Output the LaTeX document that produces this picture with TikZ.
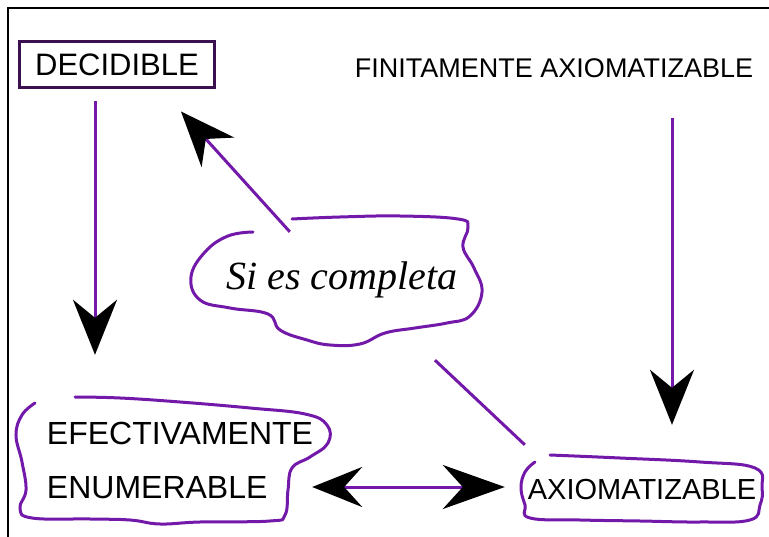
\documentclass[tikz,border=0pt]{standalone}
\usepackage{fontspec}
\setmainfont{Liberation Sans}
\newfontfamily\mano{Liberation Serif}
\usetikzlibrary{arrows.meta,calc,positioning}
\definecolor{pen}{RGB}{115,25,170}
\definecolor{marco}{RGB}{60,15,80}

\begin{document}
\begin{tikzpicture}[x=1pt, y=-1pt,
  box/.style={rectangle, draw=marco, line width=3pt, minimum width=195pt, minimum height=46pt},
  plain/.style={rectangle, inner sep=0pt},
  nube/.style={draw=pen, line width=3pt, line cap=round},
  flecha/.style={draw=pen, line width=3pt, -{Stealth[length=55pt, width=44pt, inset=18pt, color=black]}},
  dobleflecha/.style={draw=pen, line width=3pt, {Stealth[length=50pt, width=40pt, inset=18pt, color=black]}-{Stealth[length=62pt, width=44pt, inset=20pt, color=black]}},
  font=\fontsize{31}{36}\selectfont]
  \useasboundingbox (0,0) rectangle (769,537);
  \draw[line width=1.5pt] (8,537) -- (8,8) -- (769,8);

  \node[box] (dec) at (117,65) {DECIDIBLE};
  \node[plain, font=\fontsize{27}{32}\selectfont] (fin) at (554,68) {FINITAMENTE AXIOMATIZABLE};
  \node[plain, minimum width=290pt, minimum height=130pt, font=\mano\itshape\fontsize{40}{44}\selectfont] (cond) at (342,280) {Si es completa};
  \node[plain, minimum width=290pt, minimum height=126pt, align=left, font=\fontsize{32}{36}\selectfont] (efe) at (180,460)
    {EFECTIVAMENTE\\[18pt]ENUMERABLE};
  \node[plain, minimum width=242pt, minimum height=70pt, font=\fontsize{29}{34}\selectfont] (axi) at (642,490) {AXIOMATIZABLE};

  % nubes
  \draw[nube] plot[smooth, tension=0.7] coordinates {(253,232) (228,236) (205,252) (191,277) (200,300)
    (230,308) (268,314) (280,330) (307,340) (330,345) (360,344) (385,333) (415,328) (447,323)
    (470,316) (482,292) (474,268) (463,247) (468,227) (458,219) (400,216) (340,217) (292,219)};
  \draw[nube] plot[smooth, tension=0.7] coordinates {(35,403) (22,415) (16,435) (22,462) (26,490)
    (20,508) (32,518) (90,519) (130,520) (160,524) (200,522) (270,521) (285,515) (288,490)
    (292,468) (310,457) (328,443) (327,425) (305,414) (250,408) (180,402) (120,398) (75,397)};
  \draw[nube] plot[smooth, tension=0.7] coordinates {(535,462) (525,472) (521,488) (525,505)
    (530,518) (580,520) (640,521) (700,522) (750,520) (760,505) (762,488) (755,468) (700,462)
    (620,458) (550,455)};

  % flechas
  \draw[flecha, shorten <=12pt, shorten >=42pt] ([xshift=-22pt]dec.south) -- ([xshift=-22pt]dec.south |- efe.north);
  \draw[flecha, shorten <=40pt, shorten >=30pt] ([xshift=118pt]fin.south) -- ([xshift=118pt]fin.south |- axi.north);
  \draw[pen, line width=3pt] ([shift={(4,-10)}]axi.north west) -- ([shift={(93,15)}]cond.south);
  \draw[flecha] ([shift={(93,17)}]cond.north west) -- ([shift={(-35,22)}]dec.south east);
  \draw[dobleflecha] ([shift={(-13,27)}]efe.east) -- ([shift={(-16,-3)}]axi.west);

\end{tikzpicture}
\end{document}
